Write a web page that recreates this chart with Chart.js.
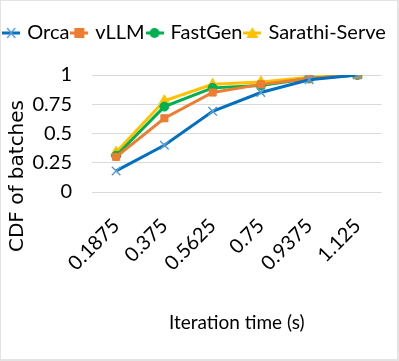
<!DOCTYPE html>
<html>
<head>
<meta charset="utf-8">
<script src="https://cdn.jsdelivr.net/npm/chart.js@4"></script>
<style>
  html, body { margin: 0; padding: 0; background: #fff; }
  #wrap { border: 1px solid #e3e3e3; border-right-width: 2px; border-bottom-width: 2px; box-sizing: border-box; width: 399px; height: 361px; }
</style>
</head>
<body>
<div id="wrap"><canvas id="cdfChart" width="396" height="358"></canvas></div>
<script>
// ==========================
// DATA
// ==========================
const iterTimes = ["0.1875", "0.375", "0.5625", "0.75", "0.9375", "1.125"];
const orcaCdf = [0.18, 0.40, 0.69, 0.85, 0.96, 1.0];
const vllmCdf = [0.30, 0.63, 0.85, 0.92, 0.97, 1.0];
const fastgenCdf = [0.31, 0.73, 0.89, 0.91, 0.97, 1.0];
const sarathiCdf = [0.34, 0.78, 0.92, 0.94, 0.98, 1.0];
const yTicks = [0, 0.25, 0.5, 0.75, 1];
const yTickLabels = ["0", "0.25", "0.5", "0.75", "1"];
const yTitle = "CDF of batches";

const FONT = "Lato, sans-serif";

// little legend icon: line with the marker on it
function legendIcon(color, pointColor, style) {
  const c = document.createElement("canvas");
  c.width = 18; c.height = 14;
  const g = c.getContext("2d");
  g.strokeStyle = color;
  g.lineWidth = 3;
  g.beginPath(); g.moveTo(0, 7); g.lineTo(18, 7); g.stroke();
  g.fillStyle = pointColor;
  g.strokeStyle = pointColor;
  if (style === "crossRot") {
    g.lineWidth = 1.5;
    g.beginPath();
    g.moveTo(5, 2); g.lineTo(13, 12);
    g.moveTo(13, 2); g.lineTo(5, 12);
    g.stroke();
  } else if (style === "rect") {
    g.fillRect(4, 2, 10, 10);
  } else if (style === "circle") {
    g.beginPath(); g.arc(9, 7, 5, 0, Math.PI * 2); g.fill();
  } else {
    g.beginPath(); g.moveTo(9, 1); g.lineTo(15, 12); g.lineTo(3, 12); g.closePath(); g.fill();
  }
  return c;
}

function series(label, data, color, pointColor, style, radius) {
  return {
    label: label,
    data: data,
    borderColor: color,
    backgroundColor: pointColor,
    pointBorderColor: pointColor,
    pointBackgroundColor: pointColor,
    pointStyle: style,
    pointRadius: radius,
    pointBorderWidth: style === "crossRot" ? 1.5 : 1,
    borderWidth: 3,
    tension: 0,
    fill: false,
    icon: legendIcon(color, pointColor, style)
  };
}

// extra room under the legend + y title placed lower like the original
const layoutTweaks = {
  id: "layoutTweaks",
  beforeInit(chart) {
    const lg = chart.legend;
    if (lg) {
      const fit = lg.fit;
      lg.fit = function () { fit.call(this); this.height += 22; };
    }
  },
  afterDraw(chart) {
    const g = chart.ctx;
    g.save();
    g.translate(17, 175);
    g.rotate(-Math.PI / 2);
    g.font = "20px 'DejaVu Sans', sans-serif";
    g.fillStyle = "#000";
    g.textAlign = "center";
    g.textBaseline = "middle";
    g.fillText(yTitle, 0, 0);
    g.restore();
  }
};

const ctx = document.getElementById("cdfChart").getContext("2d");

new Chart(ctx, {
  type: "line",
  data: {
    labels: iterTimes,
    datasets: [
      series("Orca", orcaCdf, "#0070C0", "#5B9BD5", "crossRot", 6),
      series("vLLM", vllmCdf, "#ED7D31", "#ED7D31", "rect", 5),
      series("FastGen", fastgenCdf, "#00B050", "#00B050", "circle", 4.5),
      series("Sarathi-Serve", sarathiCdf, "#FFC000", "#FFC000", "triangle", 6)
    ]
  },
  plugins: [layoutTweaks],
  options: {
    responsive: false,
    animation: false,
    layout: { padding: { left: 0, right: 7, top: 18, bottom: 0 } },
    plugins: {
      legend: {
        position: "top",
        labels: {
          usePointStyle: true,
          pointStyleWidth: 12,
          padding: 4,
          color: "#000",
          font: { family: FONT, size: 20 },
          generateLabels: (chart) => chart.data.datasets.map((ds, i) => ({
            text: ds.label,
            pointStyle: ds.icon,
            fontColor: "#000",
            datasetIndex: i,
            hidden: false,
            lineWidth: 0
          }))
        }
      },
      tooltip: { enabled: false }
    },
    scales: {
      x: {
        offset: true,
        afterFit: (axis) => { axis.height = 167; },
        grid: { display: false, drawTicks: false },
        border: { display: false },
        ticks: {
          color: "#000",
          maxRotation: 45,
          minRotation: 45,
          autoSkip: false,
          padding: 22,
          font: { family: FONT, size: 20 }
        },
        title: {
          display: true,
          text: "Iteration time (s)",
          color: "#000",
          font: { family: FONT, size: 19 },
          padding: { top: 4, bottom: 25 }
        }
      },
      y: {
        min: 0,
        max: 1,
        afterFit: (axis) => { axis.width = 91; },
        afterBuildTicks: (axis) => { axis.ticks = yTicks.map(v => ({ value: v })); },
        ticks: {
          color: "#000",
          padding: 20,
          autoSkip: false,
          font: { family: FONT, size: 20 },
          callback: (v) => yTickLabels[yTicks.indexOf(v)]
        },
        grid: { color: "#d9d9d9", drawTicks: false },
        border: { display: false },
        title: { display: false }
      }
    }
  }
});
</script>
</body>
</html>
